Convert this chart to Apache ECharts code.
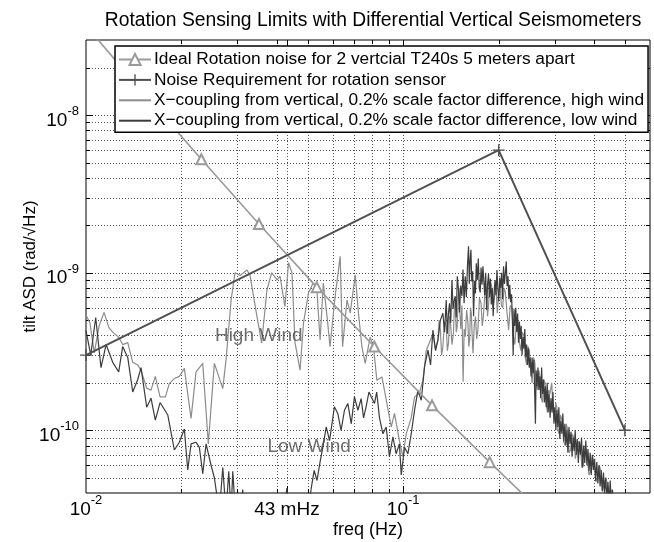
<!DOCTYPE html>
<html>
<head>
<meta charset="utf-8">
<script src="https://cdn.jsdelivr.net/npm/echarts@6/dist/echarts.min.js"></script>
<style>
  html, body { margin: 0; padding: 0; background: #fff; }
  #chart { width: 654px; height: 542px; }
</style>
</head>
<body>
<div id="chart"></div>
<script>
const FONT = '"Liberation Sans", Arial, Helvetica, sans-serif';
const U = 1e-10; // noise curves below are written in units of 1e-10 rad/√Hz

const X_MIN = 0.01, X_MAX = 0.6;
const Y_MIN = 4e-11, Y_MAX = 3e-8;

const xTickLabels = [0.01, 0.043, 0.1];
const xMajor = [0.01, 0.043, 0.1];
const xGridValues = [0.02, 0.03, 0.04, 0.043, 0.05, 0.06, 0.07, 0.08, 0.09, 0.1, 0.2, 0.3, 0.4, 0.5];
const yMajor = [1e-10, 1e-9, 1e-8];
const yGridValues = [5e-11, 6e-11, 7e-11, 8e-11, 9e-11, 1e-10, 2e-10, 3e-10, 4e-10, 5e-10, 6e-10, 7e-10,
  8e-10, 9e-10, 1e-9, 2e-9, 3e-9, 4e-9, 5e-9, 6e-9, 7e-9, 8e-9, 9e-9, 1e-8, 2e-8];

const legendNames = [
  'Ideal Rotation noise for 2 vertcial T240s 5 meters apart',
  'Noise Requirement for rotation sensor',
  'X\u2212coupling from vertical, 0.2% scale factor difference, high wind',
  'X\u2212coupling from vertical, 0.2% scale factor difference, low wind'
];

// ideal rotation noise (one marker per point)
const idealFreq = [0.01, 0.0152, 0.0231, 0.0351, 0.0534, 0.0811, 0.1233, 0.1874, 0.2848, 0.4329];
const idealNoise = [3.69e-8, 1.38e-8, 5.25e-9, 2.04e-9, 8.1e-10, 3.4e-10, 1.44e-10, 6.28e-11, 2.79e-11, 1.26e-11];

// requirement
const reqFreq = [0.01, 0.2, 0.5];
const reqNoise = [3e-10, 6e-9, 1e-10];

// [freq Hz, ASD in 1e-10]
const highWind = [
  [0.01000,5.4],[0.01029,4.8],[0.01062,3.1],[0.01100,4.6],[0.01140,5.6],[0.01180,4.5],[0.01214,4.2],
  [0.01268,3.9],[0.01305,3.5],[0.01354,3.6],[0.01404,2.7],[0.01456,2.6],[0.01491,2.4],[0.01554,1.85],
  [0.01603,1.8],[0.01654,2.2],[0.01712,1.63],[0.01780,1.63],[0.01830,1.98],[0.01899,2.13],[0.01969,2.2],
  [0.02042,2.47],[0.02144,1.19],[0.02223,2.35],[0.02334,2.66],[0.02430,0.82],[0.02539,2.66],[0.02699,1.84],
  [0.02764,2.8],[0.02867,6.7],[0.0295,10.0],[0.0306,9.6],[0.0322,10.4],[0.0329,9.6],[0.0346,5.27],
  [0.0358,3.58],[0.0372,7.8],[0.0385,10.0],[0.0400,9.0],[0.0409,9.5],[0.0424,6.1],[0.0435,11.6],
  [0.0446,10.0],[0.0456,3.6],[0.0473,2.41],[0.0485,4.8],[0.0503,7.46],[0.0520,8.6],[0.0534,8.0],
  [0.0547,3.74],[0.0560,8.6],[0.0577,5.0],[0.0588,3.39],[0.0610,7.06],[0.0633,12.7],[0.0644,3.39],
  [0.0665,6.7],[0.0681,5.56],[0.0706,9.7],[0.0723,5.5],[0.0741,3.4],[0.0759,2.66],[0.0787,3.9],
  [0.0806,3.4],[0.0826,2.08],[0.0857,2.18],[0.0888,1.49],[0.0917,1.05],[0.0939,1.28],[0.0973,0.86],
  [0.0998,0.68],[0.1022,0.95],[0.1060,1.2],[0.1086,1.63],[0.1125,1.72],[0.1154,2.08],[0.1182,3.2],
  [0.1241,4.1],[0.1262,3.3],[0.1287,3.74],[0.1298,5.0],[0.1310,4.33],[0.1322,3.0],[0.1334,3.4],
  [0.1350,4.9],[0.1367,4.55],[0.1378,3.2],[0.1390,3.6],[0.1400,5.3],[0.1410,4.78],[0.1425,3.5],
  [0.1440,4.13],[0.1450,6.0],[0.1460,6.5],[0.1470,4.2],[0.1480,4.55],[0.1490,7.0],[0.1500,8.0],
  [0.1510,5.5],[0.1520,4.4],[0.1532,6.2],[0.1545,2.03],[0.1557,4.4],[0.1570,3.93],[0.1585,5.8],
  [0.1600,4.78],[0.1610,3.4],[0.1620,3.74],[0.1630,6.0],[0.1640,5.53],[0.1650,4.0],[0.1660,3.08],
  [0.1675,4.6],[0.1690,5.27],[0.1705,3.8],[0.1720,4.33],[0.1740,6.9],[0.1760,6.4],[0.1775,4.6],
  [0.1790,5.27],[0.1810,7.5],[0.1830,7.8],[0.1845,5.3],[0.1860,6.4],[0.1880,9.0],[0.1900,8.2],
  [0.1920,6.0],[0.1940,7.06],[0.1960,8.8],[0.1980,5.53],[0.2000,7.4],[0.2020,8.5],[0.2040,6.2],
  [0.2060,6.0],[0.2080,8.0],[0.2100,7.5],[0.2125,5.6],[0.2150,4.33],[0.2175,6.2],[0.2200,6.0],
  [0.2225,4.0],[0.2250,3.5],[0.2275,5.0],[0.2300,4.8],[0.2325,3.6],[0.2350,3.2],[0.2375,4.2],
  [0.2400,4.0],[0.2425,2.9],[0.2450,2.6],[0.2475,3.4],[0.2500,3.2],[0.2525,2.4],[0.2550,2.0],
  [0.2575,2.9],[0.2600,2.7],[0.2625,1.9],[0.2650,1.8],[0.2675,2.4],[0.2700,2.2],[0.2725,1.6],
  [0.2750,1.5],[0.2775,2.1],[0.2800,2.0],[0.2825,1.45],[0.2850,1.3],[0.2875,1.8],[0.2900,1.7],
  [0.2940,2.0],[0.2970,1.3],[0.3000,1.2],[0.3025,1.5],[0.3050,1.4],[0.3075,1.0],[0.3100,0.95],
  [0.3135,1.25],[0.3170,1.15],[0.3205,0.85],[0.3240,0.8],[0.3270,1.1],[0.3300,1.0],[0.3335,0.72],
  [0.3370,0.75],[0.3410,0.95],[0.3450,0.9],[0.3490,0.66],[0.3530,0.65],[0.3575,0.85],[0.3620,0.8],
  [0.3660,0.58],[0.3700,0.6],[0.3750,0.78],[0.3800,0.72],[0.3850,0.52],[0.3900,0.55],[0.3950,0.68],
  [0.4000,0.62],[0.4050,0.47],[0.4100,0.5],[0.4150,0.6],[0.4200,0.55],[0.4250,0.41],[0.4300,0.42],
  [0.4350,0.5],[0.4400,0.46],[0.4450,0.34],[0.4500,0.36],[0.4550,0.42],[0.4600,0.38],[0.4650,0.29],
  [0.4700,0.3]
];

const lowWind = [
  [0.01000,4.3],[0.01035,3.0],[0.01073,5.2],[0.01115,2.5],[0.01157,3.5],[0.01214,2.7],[0.01268,2.35],
  [0.01305,3.4],[0.01354,2.9],[0.01404,1.75],[0.01456,2.1],[0.01491,2.5],[0.01554,1.4],[0.01603,1.6],
  [0.01654,1.16],[0.01712,1.5],[0.01811,1.25],[0.01899,0.75],[0.01969,0.84],[0.02042,1.02],[0.02093,0.56],
  [0.02144,0.82],[0.02223,0.84],[0.02277,0.78],[0.02334,0.53],[0.02391,0.82],[0.02479,0.6],[0.02539,0.5],
  [0.02633,0.3],[0.02699,0.58],[0.02764,0.3],[0.02819,0.55],[0.02867,0.3],[0.02902,0.55],[0.02958,0.3],
  [0.0305,0.25],[0.0312,0.42],[0.0320,0.22],[0.0340,0.28],[0.0360,0.2],[0.0380,0.3],[0.0400,0.22],
  [0.0420,0.3],[0.0430,0.43],[0.0440,0.25],[0.0470,0.2],[0.0490,0.3],[0.0502,0.3],[0.0513,0.43],
  [0.0524,0.556],[0.0535,0.48],[0.0547,0.63],[0.0558,0.78],[0.0572,1.05],[0.0586,0.86],[0.0607,1.41],
  [0.0622,1.28],[0.0637,1.0],[0.0653,1.34],[0.0669,1.48],[0.0686,1.1],[0.0702,1.63],[0.0720,1.34],
  [0.0737,1.59],[0.0750,1.2],[0.0764,1.41],[0.0780,1.75],[0.0793,1.63],[0.0812,1.48],[0.0825,1.75],
  [0.0842,1.2],[0.0863,0.95],[0.0884,1.05],[0.0905,0.68],[0.0928,0.91],[0.0950,0.71],[0.0973,0.82],
  [0.0986,0.52],[0.1010,0.78],[0.1035,0.71],[0.1060,0.95],[0.1086,1.34],[0.1113,1.8],[0.1140,1.55],
  [0.1168,2.53],[0.1197,3.23],[0.1220,2.6],[0.1241,4.33],[0.1265,3.2],[0.1287,3.74],[0.1310,5.0],
  [0.1334,5.53],[0.1350,4.2],[0.1367,6.7],[0.1378,4.1],[0.1390,5.6],[0.1400,6.4],[0.1412,4.8],
  [0.1425,9.0],[0.1436,5.9],[0.1447,6.6],[0.1459,7.1],[0.1470,5.2],[0.1481,9.5],[0.1494,7.8],
  [0.1505,5.6],[0.1518,8.3],[0.1532,7.1],[0.1544,10.5],[0.1556,6.4],[0.1569,9.5],[0.1582,7.0],
  [0.1595,11.2],[0.1607,14.7],[0.1616,8.5],[0.1626,12.0],[0.1635,14.0],[0.1645,8.8],[0.1656,10.2],
  [0.1667,5.3],[0.1679,8.9],[0.1690,7.4],[0.1700,11.5],[0.1712,9.0],[0.1725,12.3],[0.1737,8.0],
  [0.1749,7.5],[0.1760,10.8],[0.1772,8.4],[0.1784,11.0],[0.1795,9.0],[0.1807,7.2],[0.1820,10.0],
  [0.1832,5.8],[0.1845,8.4],[0.1858,9.8],[0.1870,7.0],[0.1883,9.2],[0.1896,6.3],[0.1909,8.0],
  [0.1922,5.3],[0.1935,7.6],[0.1948,9.0],[0.1961,7.2],[0.1975,10.4],[0.1988,8.0],[0.2002,6.6],
  [0.2015,9.3],[0.2029,8.0],[0.2043,10.0],[0.2057,6.8],[0.2072,11.0],[0.2086,8.5],[0.2100,10.0],
  [0.2113,11.8],[0.2126,8.2],[0.2140,9.5],[0.2154,6.8],[0.2168,8.4],[0.2182,6.5],[0.2196,7.3],
  [0.2210,5.0],[0.2222,3.0],[0.2235,5.9],[0.2250,4.6],[0.2265,6.0],[0.2280,4.2],[0.2295,5.5],
  [0.2310,3.6],[0.2325,4.9],[0.2340,3.8],[0.2355,4.6],[0.2370,3.0],[0.2386,3.9],[0.2402,3.3],
  [0.2418,4.4],[0.2434,2.9],[0.2450,3.5],[0.2466,2.6],[0.2482,3.3],[0.2498,2.5],[0.2515,2.9],
  [0.2532,2.2],[0.2549,2.9],[0.2566,2.3],[0.2583,2.8],[0.2600,1.6],[0.2612,1.1],[0.2625,2.4],
  [0.2642,1.9],[0.2660,2.5],[0.2678,1.8],[0.2696,2.2],[0.2714,1.6],[0.2732,2.5],[0.2750,1.7],
  [0.2769,2.1],[0.2788,1.5],[0.2807,1.9],[0.2826,1.4],[0.2845,2.0],[0.2865,1.3],[0.2885,1.7],
  [0.2905,1.2],[0.2925,1.6],[0.2945,1.3],[0.2966,1.75],[0.2987,1.1],[0.3008,1.4],[0.3030,1.0],
  [0.3052,1.35],[0.3074,1.05],[0.3096,1.4],[0.3118,0.88],[0.3141,1.15],[0.3164,0.95],[0.3187,1.28],
  [0.3210,0.85],[0.3234,1.1],[0.3258,0.8],[0.3282,1.0],[0.3306,0.72],[0.3331,1.05],[0.3356,0.82],
  [0.3381,0.98],[0.3407,0.68],[0.3433,0.9],[0.3459,0.74],[0.3485,1.0],[0.3512,0.7],[0.3539,0.88],
  [0.3566,0.62],[0.3594,0.85],[0.3622,0.7],[0.3650,0.9],[0.3678,0.58],[0.3707,0.8],[0.3736,0.62],
  [0.3765,0.86],[0.3795,0.6],[0.3825,0.76],[0.3855,0.55],[0.3886,0.72],[0.3917,0.52],[0.3948,0.7],
  [0.3980,0.56],[0.4012,0.66],[0.4044,0.48],[0.4077,0.63],[0.4110,0.46],[0.4143,0.6],[0.4177,0.44],
  [0.4211,0.56],[0.4245,0.41],[0.4280,0.54],[0.4315,0.4],[0.4350,0.5],[0.4386,0.37],[0.4422,0.47],
  [0.4458,0.35],[0.4495,0.48],[0.4532,0.33],[0.4570,0.42],[0.4608,0.3],[0.4646,0.38],[0.4685,0.28],
  [0.4724,0.34],[0.4764,0.25]
];

// text annotations placed at data coordinates (left edge, vertical middle)
const notes = [
  { text: 'High Wind', freq: 0.0254, asd: 3.97e-10 },
  { text: 'Low Wind', freq: 0.0372, asd: 0.79e-10 }
];

const pow10Label = function (value) {
  if (Math.abs(value - 0.043) < 1e-6) return '{b|43 mHz}';
  const e = Math.log10(value);
  if (Math.abs(e - Math.round(e)) > 1e-6) return '';
  return '{b|10}{s|' + Math.round(e) + '}';
};

const richLabel = {
  b: { fontFamily: FONT, fontSize: 19, color: '#000', lineHeight: 20, padding: [6, 0, 0, 0], verticalAlign: 'top' },
  s: { fontFamily: FONT, fontSize: 13, color: '#000', lineHeight: 13, verticalAlign: 'top' }
};

const crisp = v => Math.round(v) + 0.5;

function renderXGrid (params, api) {
  const v = api.value(0);
  const b = api.coord([v, Y_MIN]);
  const t = api.coord([v, Y_MAX]);
  const x = crisp(b[0]);
  const len = xMajor.indexOf(v) >= 0 ? 7 : 4;
  return {
    type: 'group',
    children: [
      { type: 'line', shape: { x1: x, y1: b[1], x2: x, y2: t[1] }, style: { stroke: '#555', lineWidth: 1, lineDash: [1, 2] } },
      { type: 'line', shape: { x1: x, y1: b[1], x2: x, y2: b[1] - len }, style: { stroke: '#000', lineWidth: 1 } },
      { type: 'line', shape: { x1: x, y1: t[1], x2: x, y2: t[1] + len }, style: { stroke: '#000', lineWidth: 1 } }
    ]
  };
}

function renderYGrid (params, api) {
  const v = api.value(1);
  const l = api.coord([X_MIN, v]);
  const r = api.coord([X_MAX, v]);
  const y = crisp(l[1]);
  const len = yMajor.indexOf(v) >= 0 ? 7 : 4;
  return {
    type: 'group',
    children: [
      { type: 'line', shape: { x1: l[0], y1: y, x2: r[0], y2: y }, style: { stroke: '#555', lineWidth: 1, lineDash: [1, 2] } },
      { type: 'line', shape: { x1: l[0], y1: y, x2: l[0] + len, y2: y }, style: { stroke: '#000', lineWidth: 1 } },
      { type: 'line', shape: { x1: r[0], y1: y, x2: r[0] - len, y2: y }, style: { stroke: '#000', lineWidth: 1 } }
    ]
  };
}

const plusSymbol = 'path://M0,4.4H10V5.6H0ZM4.4,0H5.6V10H4.4Z';

const option = {
  animation: false,
  backgroundColor: '#fff',
  title: {
    text: 'Rotation Sensing Limits with Differential Vertical Seismometers',
    left: 368,
    textAlign: 'center',
    top: 6,
    textStyle: { fontFamily: FONT, fontSize: 19.3, fontWeight: 'normal', color: '#000' }
  },
  grid: {
    left: 86, right: 4, top: 40, bottom: 49,
    outerBoundsMode: 'none',
    show: true, borderColor: '#000', borderWidth: 1, backgroundColor: 'transparent'
  },
  legend: {
    // plain-line entries: hide the legend marker of the two noise curves
    data: legendNames.map((n, i) => (i >= 2 ? { name: n, itemStyle: { opacity: 0 } } : n)),
    orient: 'vertical',
    left: 115,
    top: 46,
    padding: [5, 4, 3, 3],
    itemWidth: 32,
    itemHeight: 14,
    itemGap: 3.4,
    backgroundColor: '#fff',
    borderColor: '#000',
    borderWidth: 1.5,
    borderRadius: 0,
    textStyle: { fontFamily: FONT, fontSize: 17.3, color: '#000', lineHeight: 17, padding: [0, 0, 0, -2] }
  },
  xAxis: {
    type: 'log', logBase: 10, min: X_MIN, max: X_MAX,
    name: 'freq (Hz)', nameLocation: 'middle', nameGap: 28, nameMoveOverlap: false,
    nameTextStyle: { fontFamily: FONT, fontSize: 18, color: '#000' },
    axisLine: { show: false },
    axisTick: { show: false },
    splitLine: { show: false },
    axisLabel: {
      customValues: xTickLabels,
      margin: 1,
      formatter: pow10Label,
      rich: richLabel,
      showMinLabel: true, showMaxLabel: true
    }
  },
  yAxis: {
    type: 'log', logBase: 10, min: Y_MIN, max: Y_MAX,
    name: 'tilt ASD (rad/\u221AHz)', nameLocation: 'middle', nameGap: 47, nameMoveOverlap: false,
    nameTextStyle: { fontFamily: FONT, fontSize: 17, color: '#000' },
    axisLine: { show: false },
    axisTick: { show: false },
    splitLine: { show: false },
    axisLabel: {
      margin: 7,
      formatter: pow10Label,
      rich: richLabel,
      showMinLabel: false, showMaxLabel: false
    }
  },
  series: [
    {
      type: 'custom', name: 'xgrid', silent: true, z: 1, clip: false,
      renderItem: renderXGrid,
      data: xGridValues.map(v => [v, Y_MIN])
    },
    {
      type: 'custom', name: 'ygrid', silent: true, z: 1, clip: false,
      renderItem: renderYGrid,
      data: yGridValues.map(v => [X_MIN, v])
    },
    {
      type: 'line', name: legendNames[0],
      data: idealFreq.map((f, i) => [f, idealNoise[i]]),
      symbol: 'emptyTriangle', symbolSize: 10, clip: true,
      color: '#9a9a9a',
      lineStyle: { width: 1.6, color: '#9a9a9a' },
      itemStyle: { color: '#9a9a9a', borderColor: '#9a9a9a', borderWidth: 1.5 },
      z: 3
    },
    {
      type: 'line', name: legendNames[1],
      data: reqFreq.map((f, i) => [f, reqNoise[i]]),
      symbol: plusSymbol, symbolSize: 12, clip: true,
      color: '#505050',
      lineStyle: { width: 2, color: '#505050' },
      itemStyle: { color: '#505050', borderWidth: 0 },
      z: 3
    },
    {
      type: 'line', name: legendNames[2],
      data: highWind.map(d => [d[0], d[1] * U]),
      symbol: 'none', clip: true,
      color: '#8c8c8c',
      lineStyle: { width: 1.2, color: '#8c8c8c' },
      z: 2
    },
    {
      type: 'line', name: legendNames[3],
      data: lowWind.map(d => [d[0], d[1] * U]),
      symbol: 'none', clip: true,
      color: '#3c3c3c',
      lineStyle: { width: 1.2, color: '#3c3c3c' },
      z: 2
    },
    {
      type: 'scatter', name: 'notes', silent: true,
      data: notes.map(n => ({ value: [n.freq, n.asd], name: n.text })),
      symbolSize: 1,
      itemStyle: { color: 'rgba(0,0,0,0)' },
      label: {
        show: true, position: 'right', distance: 0,
        formatter: p => p.name,
        fontFamily: FONT, fontSize: 19, color: '#4a4a4a'
      },
      z: 4
    }
  ]
};

const chart = echarts.init(document.getElementById('chart'));
chart.setOption(option);
</script>
</body>
</html>
